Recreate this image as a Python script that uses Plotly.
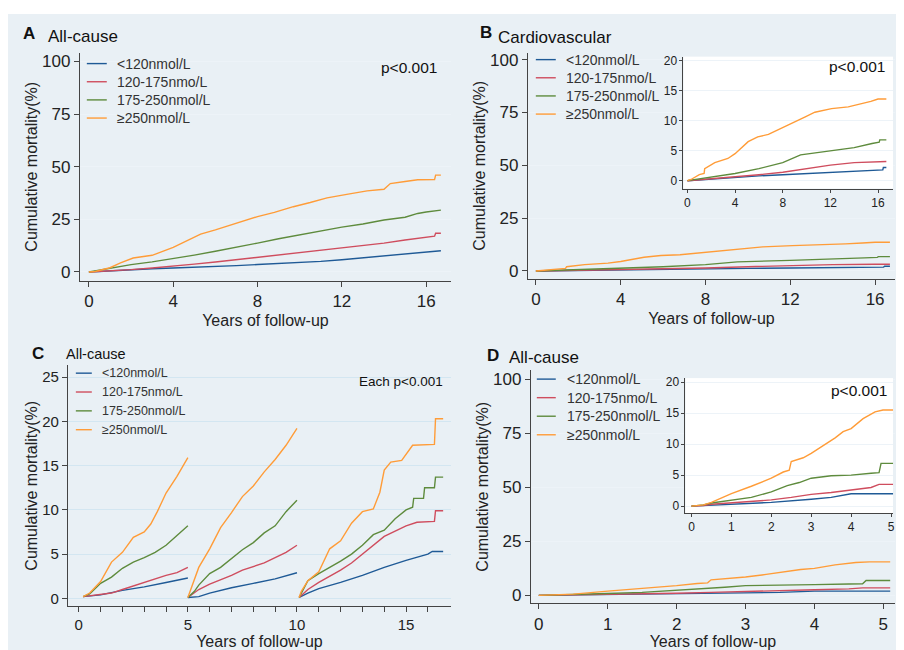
import plotly.graph_objects as go

# page body margin offsets the figure by 8px, so the figure is sized to fill the rest of the window
OFF = 8
W, H = 904 - OFF, 650 - OFF
groups = ["<120nmol/L", "120-175nmo/L", "175-250nmol/L", "≥250nmol/L"]
colors = ["#1f5a96", "#cf4d5e", "#5e8b3d", "#ff9c38"]

# ---------- Panel A: all-cause, 0-16.7 years ----------
a_x = [[0, 1, 2, 3, 4, 5, 6, 7, 8, 9, 10, 11, 12, 13, 14, 15, 16, 16.7],
       [0, 1, 2, 3, 4, 5, 6, 7, 8, 9, 10, 11, 12, 13, 14, 15, 16, 16.4, 16.45, 16.7],
       [0, 1, 2, 3, 4, 5, 6, 7, 8, 9, 10, 11, 12, 13, 14, 15, 15.6, 16, 16.7],
       [0, 0.3, 1, 1.5, 2.1, 3, 4, 4.6, 5.3, 6, 7, 8, 8.8, 9.7, 10.5, 11.3, 12.3, 13.2, 14, 14.3, 15, 15.6, 16.4, 16.45, 16.7]]
a_y = [[0, 0.6, 1.1, 1.5, 1.9, 2.2, 2.4, 3.0, 3.5, 3.9, 4.3, 5.0, 5.8, 6.7, 7.7, 8.6, 9.6, 10.1],
       [0, 0.5, 1.1, 1.9, 2.7, 3.7, 4.7, 5.8, 6.9, 7.9, 9.0, 10.1, 11.3, 12.4, 13.7, 15.2, 16.6, 17.0, 18.4, 18.4],
       [0, 1.9, 3.5, 4.8, 6.3, 8.0, 9.8, 11.6, 13.7, 15.8, 17.6, 19.6, 21.3, 22.8, 24.7, 26.0, 27.8, 28.5, 29.4],
       [0, 0.2, 2.0, 4.3, 6.6, 7.9, 11.7, 14.5, 18.0, 20.0, 23.0, 26.3, 28.3, 31.0, 33.0, 35.2, 37.0, 38.5, 39.3, 42.0, 43.0, 43.8, 43.9, 46.0, 46.0]]

# ---------- Panel B: cardiovascular, 0-16.7 years ----------
b_x = [[0, 2, 4, 6, 8, 10, 12, 14, 16, 16.4, 16.45, 16.7],
       [0, 2, 4, 6, 8, 10, 12, 14, 16, 16.7],
       [0, 2, 4, 6, 8, 9.5, 12, 14, 15.5, 16.1, 16.15, 16.7],
       [0, 0.3, 1.0, 1.4, 1.45, 2.3, 3.4, 4.0, 5.1, 5.9, 6.8, 7.9, 9.0, 9.85, 10.7, 12.1, 13.5, 14.6, 15.4, 16.0, 16.7]]
b_y = [[0, 0.3, 0.5, 0.8, 1.0, 1.2, 1.4, 1.6, 1.8, 1.8, 2.2, 2.2],
       [0, 0.3, 0.6, 1.0, 1.4, 2.0, 2.6, 3.0, 3.2, 3.2],
       [0, 0.6, 1.2, 2.0, 3.0, 4.3, 5.0, 5.5, 6.2, 6.4, 6.8, 6.8],
       [0, 0.2, 1.0, 1.2, 2.0, 3.0, 3.7, 4.5, 6.5, 7.3, 7.7, 8.7, 9.8, 10.6, 11.4, 12.0, 12.3, 12.8, 13.2, 13.6, 13.6]]

# ---------- Panel C: landmark analysis 0-5, 5-10, 10-16.7 ----------
c_x = [[0.2, 1, 2, 3, 4, 5, None, 5.0, 5.5, 6, 7, 8, 9, 10, None, 10.1, 10.5, 11, 12, 13, 14, 15, 16, 16.2, 16.7],
       [0.2, 0.5, 1, 1.5, 2, 2.5, 3, 3.5, 4, 4.5, 5, None, 5.0, 5.5, 6, 6.5, 7, 7.5, 8, 8.5, 9, 9.5, 10, None,
        10.1, 10.5, 11, 11.5, 12, 12.5, 13, 13.5, 14, 14.5, 15, 15.5, 16.3, 16.35, 16.7],
       [0.2, 0.5, 1, 1.5, 2, 2.5, 3, 3.5, 4, 4.5, 5, None, 5.0, 5.3, 5.5, 6, 6.5, 7, 7.5, 8, 8.5, 9, 9.5, 10, None,
        10.1, 10.3, 10.5, 11, 11.5, 12, 12.5, 13, 13.5, 14, 14.5, 15, 15.3, 15.35, 15.8, 15.85, 16.3, 16.35, 16.7],
       [0.2, 0.5, 1, 1.5, 2, 2.5, 3, 3.3, 3.6, 4, 4.5, 5, None, 5.0, 5.2, 5.5, 6, 6.5, 7, 7.5, 8, 8.5, 9, 9.5, 10, None,
        10.1, 10.2, 10.5, 11, 11.5, 12, 12.5, 13, 13.5, 13.8, 14, 14.3, 14.8, 15, 15.3, 16.3, 16.35, 16.7]]
c_y = [[0.2, 0.4, 0.9, 1.3, 1.8, 2.3, None, 0.1, 0.2, 0.6, 1.2, 1.7, 2.2, 2.9, None, 0.1, 0.6, 1.1, 1.8, 2.6, 3.5, 4.3, 5.0, 5.3, 5.3],
       [0.2, 0.3, 0.4, 0.6, 1.0, 1.4, 1.8, 2.2, 2.6, 2.9, 3.5, None, 0.1, 1.0, 1.6, 2.1, 2.6, 3.2, 3.6, 4.0, 4.6, 5.2, 6.0, None,
        0.1, 1.0, 1.8, 2.5, 3.2, 4.0, 5.0, 6.0, 7.0, 7.6, 8.2, 8.6, 8.7, 9.9, 9.9],
       [0.2, 0.5, 1.7, 2.4, 3.4, 4.1, 4.6, 5.2, 6.0, 7.1, 8.2, None, 0.1, 0.8, 1.5, 2.8, 3.5, 4.5, 5.5, 6.3, 7.4, 8.2, 9.8, 11.1, None,
        0.1, 1.0, 2.0, 2.8, 3.5, 4.2, 5.0, 6.0, 7.2, 7.7, 9.0, 10.0, 10.3, 11.3, 11.3, 12.5, 12.5, 13.7, 13.7],
       [0.2, 0.6, 1.9, 4.1, 5.2, 6.9, 7.5, 8.4, 9.8, 11.9, 13.8, 15.9, None, 0.1, 1.5, 3.5, 5.6, 8.0, 9.7, 11.5, 12.7, 14.3, 15.7, 17.3, 19.2, None,
        0.1, 0.8, 2.0, 3.0, 5.6, 6.5, 8.5, 9.8, 10.1, 12.0, 14.5, 15.4, 15.6, 16.3, 17.3, 17.4, 20.3, 20.3]]

# ---------- Panel D: all-cause, 0-5 years ----------
d_x = [[0, 0.3, 1, 2, 3, 3.5, 4, 4.5, 5.1],
       [0, 0.3, 0.5, 1, 2, 2.5, 3, 3.5, 4, 4.5, 4.7, 5.1],
       [0, 0.3, 0.5, 1, 1.5, 2, 2.4, 2.7, 3, 3.5, 4, 4.5, 4.7, 4.75, 5.1],
       [0, 0.3, 0.5, 1, 1.5, 2, 2.3, 2.45, 2.5, 2.8, 3, 3.3, 3.6, 3.8, 4, 4.3, 4.6, 4.8, 5.1]]
d_y = [[0, 0.1, 0.3, 0.6, 1.1, 1.4, 2.0, 2.0, 2.0],
       [0, 0.1, 0.3, 0.5, 1.0, 1.4, 1.9, 2.2, 2.6, 3.0, 3.5, 3.5],
       [0, 0.2, 0.5, 0.9, 1.4, 2.3, 3.3, 3.8, 4.5, 4.9, 5.0, 5.3, 5.4, 6.9, 6.9],
       [0, 0.2, 0.6, 2.0, 3.2, 4.5, 5.5, 5.8, 7.2, 7.8, 8.5, 9.7, 11.0, 12.0, 12.5, 14.1, 15.2, 15.5, 15.5]]

main_ticks_a = [0, 4, 8, 12, 16]
main_yticks = [0, 25, 50, 75, 100]
inset_yticks = [0, 5, 10, 15, 20]
c_xticks = list(range(17))
c_xticklabels = ["0", "", "", "", "", "5", "", "", "", "", "10", "", "", "", "", "15", ""]
c_yticks = [0, 5, 10, 15, 20, 25]
d_xticks = [0, 1, 2, 3, 4, 5]


def fx(px):
    return (px - OFF) / W


def fy(py):
    return 1 - (py - OFF) / H


def dom_x(a, b):
    return [fx(a), fx(b)]


def dom_y(top, bottom):
    return [fy(bottom), fy(top)]


fig = go.Figure()
FONT = "Liberation Sans, Arial, sans-serif"
TXT = "#222222"

panels = [(a_x, a_y, "x", "y"), (b_x, b_y, "x2", "y2"), (c_x, c_y, "x3", "y3"), (d_x, d_y, "x4", "y4"),
          (b_x, b_y, "x5", "y5"), (d_x, d_y, "x6", "y6")]
for xs, ys, xa, ya in panels:
    for i in range(4):
        fig.add_trace(go.Scatter(x=xs[i], y=ys[i], mode="lines",
                                 line=dict(color=colors[i], width=1.4), name=groups[i],
                                 xaxis=xa, yaxis=ya, showlegend=False,
                                 connectgaps=False, hoverinfo="skip"))

GRID = "#edf3f8"
axis_common = dict(showline=True, linecolor="#444444", linewidth=1, ticks="outside", ticklen=5,
                   tickcolor="#444444", tickfont=dict(size=17, color=TXT, family=FONT),
                   zeroline=False, mirror=False)


def xaxis(dom, rng, tickvals, anchor, **kw):
    d = dict(axis_common)
    d.update(domain=dom, range=rng, tickvals=tickvals, anchor=anchor, showgrid=False)
    d.update(kw)
    return d


def yaxis(dom, rng, tickvals, anchor, gridcolor=GRID, **kw):
    d = dict(axis_common)
    d.update(domain=dom, range=rng, tickvals=tickvals, anchor=anchor, showgrid=True,
             gridcolor=gridcolor, gridwidth=1)
    d.update(kw)
    return d


def xt(standoff):
    return dict(text="Years of follow-up", font=dict(size=16, color=TXT, family=FONT), standoff=standoff)


def yt(standoff):
    return dict(text="Cumulative mortality(%)", font=dict(size=16, color=TXT, family=FONT), standoff=standoff)


small = dict(size=12, color=TXT, family=FONT)

fig.update_layout(
    width=W, height=H, margin=dict(l=0, r=0, t=0, b=0),
    paper_bgcolor="white", plot_bgcolor="white",
    xaxis=xaxis(dom_x(80, 452), [-0.43, 17.18], main_ticks_a, "y", title=xt(4)),
    yaxis=yaxis(dom_y(50, 280), [-4.25, 104.2], main_yticks, "x", title=yt(0)),
    xaxis2=xaxis(dom_x(529, 897), [-0.38, 16.94], main_ticks_a, "y2", title=xt(4)),
    yaxis2=yaxis(dom_y(50, 278), [-3.76, 103.3], main_yticks, "x2", title=yt(0)),
    xaxis3=xaxis(dom_x(68, 452), [-0.5, 17.06], c_xticks, "y3", title=xt(0), ticktext=c_xticklabels,
                 tickfont=dict(size=15, color=TXT, family=FONT)),
    yaxis3=yaxis(dom_y(365, 608), [-0.9, 26.35], c_yticks, "x3", gridcolor="#d3e6f1", title=yt(0),
                 tickfont=dict(size=15, color=TXT, family=FONT)),
    xaxis4=xaxis(dom_x(532, 897), [-0.116, 5.17], d_xticks, "y4", title=xt(0)),
    yaxis4=yaxis(dom_y(370, 605), [-3.67, 104.1], main_yticks, "x4", title=yt(0)),
    xaxis5=xaxis(dom_x(685, 895), [-0.33, 17.26], main_ticks_a, "y5", ticklen=3, tickfont=small),
    yaxis5=yaxis(dom_y(54, 187), [-1.32, 20.66], inset_yticks, "x5", ticklen=3, tickfont=small),
    xaxis6=xaxis(dom_x(687, 895), [-0.15, 5.05], d_xticks, "y6", ticklen=3, tickfont=small),
    yaxis6=yaxis(dom_y(378, 514), [-1.12, 20.64], inset_yticks, "x6", ticklen=3, tickfont=small),
)

shapes = [dict(type="rect", xref="paper", yref="paper", x0=fx(7), x1=1.01, y0=-0.01, y1=fy(11),
               fillcolor="#e9f0f5", line=dict(width=0), layer="below")]
ann = []


def txt(x, y, s, size, bold=False, anchor="left", color="#111111"):
    ann.append(dict(x=fx(x), y=fy(y), xref="paper", yref="paper", text=f"<b>{s}</b>" if bold else s,
                    showarrow=False, xanchor=anchor, yanchor="middle",
                    font=dict(size=size, color=color, family=FONT)))


# legends (one per panel): sample line x0, x1, text x, first row y, row step, font size
legends = [(87, 107, 115, 61, 18.3, 14), (537, 557, 565, 57, 18.3, 14),
           (76, 92, 100, 373, 19.0, 12.5), (538, 557, 566, 379, 18.7, 14)]
for lx0, lx1, tx, ly, step, size in legends:
    for i, g in enumerate(groups):
        yy = ly + i * step
        shapes.append(dict(type="line", xref="paper", yref="paper", x0=fx(lx0), x1=fx(lx1),
                           y0=fy(yy), y1=fy(yy), line=dict(color=colors[i], width=1.4)))
        txt(tx, yy, g, size, color="#333333")

txt(21, 31, "A", 17, True)
txt(46, 34, "All-cause", 17)
txt(479, 30, "B", 17, True)
txt(497, 35, "Cardiovascular", 17)
txt(30, 353, "C", 17, True)
txt(64, 354, "All-cause", 14.5)
txt(486, 355, "D", 17, True)
txt(508, 357, "All-cause", 17)
txt(380, 65, "p<0.001", 15.5)
txt(829, 64, "p<0.001", 15.5)
txt(358, 381, "Each p<0.001", 13.5)
txt(831, 390, "p<0.001", 15.5)
fig.update_layout(annotations=ann, shapes=shapes)

fig.write_html("out.html")
